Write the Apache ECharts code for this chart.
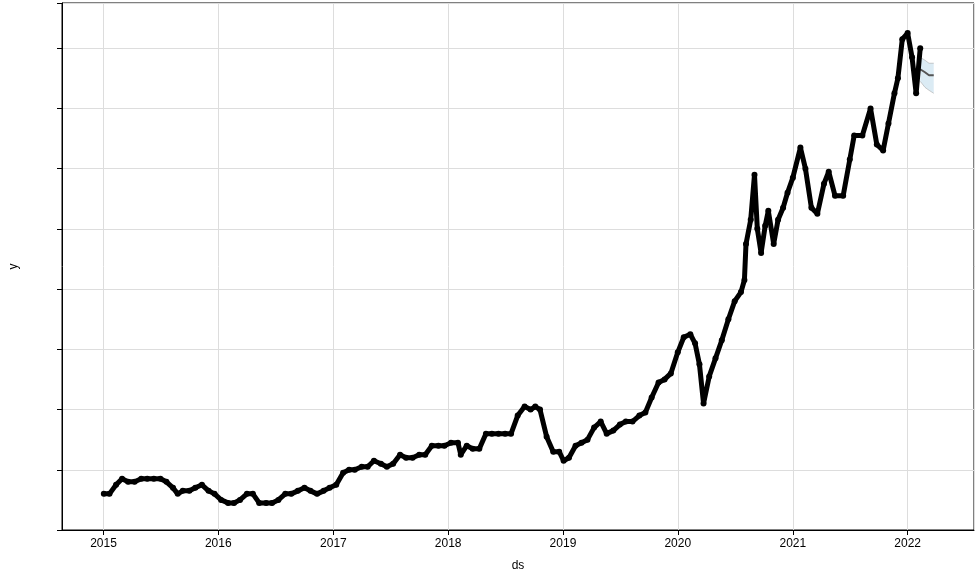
<!DOCTYPE html>
<html><head><meta charset="utf-8">
<script src="https://cdn.jsdelivr.net/npm/echarts@6/dist/echarts.min.js"></script>
<style>html,body{margin:0;padding:0;background:#fff}#c{width:979px;height:579px}</style>
</head><body><div id="c"></div>
<script>
const dates = ["2015-01-02","2015-01-20","2015-02-10","2015-03-01","2015-03-20","2015-04-10","2015-05-01","2015-05-20","2015-06-10","2015-07-01","2015-07-20","2015-08-10","2015-08-25","2015-09-10","2015-10-01","2015-10-20","2015-11-10","2015-12-01","2015-12-20","2016-01-10","2016-02-01","2016-02-20","2016-03-10","2016-04-01","2016-04-20","2016-05-10","2016-06-01","2016-06-20","2016-07-10","2016-08-01","2016-08-20","2016-09-10","2016-10-01","2016-10-20","2016-11-10","2016-12-01","2016-12-20","2017-01-10","2017-02-01","2017-02-20","2017-03-10","2017-04-01","2017-04-20","2017-05-10","2017-06-01","2017-06-20","2017-07-10","2017-08-01","2017-08-20","2017-09-10","2017-10-01","2017-10-20","2017-11-10","2017-12-01","2017-12-20","2018-01-10","2018-02-01","2018-02-10","2018-03-01","2018-03-20","2018-04-10","2018-05-01","2018-05-20","2018-06-10","2018-07-01","2018-07-20","2018-08-10","2018-09-01","2018-09-20","2018-10-05","2018-10-20","2018-11-10","2018-12-01","2018-12-20","2019-01-03","2019-01-20","2019-02-10","2019-03-01","2019-03-20","2019-04-10","2019-05-01","2019-05-20","2019-06-10","2019-07-01","2019-07-20","2019-08-10","2019-09-01","2019-09-20","2019-10-10","2019-11-01","2019-11-20","2019-12-10","2020-01-01","2020-01-20","2020-02-10","2020-02-25","2020-03-10","2020-03-23","2020-04-10","2020-04-30","2020-05-20","2020-06-10","2020-06-30","2020-07-20","2020-07-31","2020-08-05","2020-08-20","2020-09-01","2020-09-10","2020-09-22","2020-10-05","2020-10-15","2020-11-01","2020-11-15","2020-12-01","2020-12-15","2021-01-01","2021-01-25","2021-02-10","2021-03-01","2021-03-20","2021-04-10","2021-04-25","2021-05-15","2021-06-10","2021-07-01","2021-07-15","2021-08-10","2021-09-05","2021-09-25","2021-10-15","2021-11-01","2021-11-20","2021-12-01","2021-12-15","2022-01-01","2022-01-15","2022-01-28","2022-02-10"];
const values = [27,27,30,32,31,31,32,32,32,32,31,29,27,28,28,29,30,28,27,25,24,24,25,27,27,24,24,24,25,27,27,28,29,28,27,28,29,30,34,35,35,36,36,38,37,36,37,40,39,39,40,40,43,43,43,44,44,40,43,42,42,47,47,47,47,47,53,56,55,56,55,46,41,41,38,39,43,44,45,49,51,47,48,50,51,51,53,54,59,64,65,67,74,79,80,77,70,57,66,72,78,85,91,94,98,110,118,133,115,107,116,121,110,118,122,127,132,142,135,122,120,130,134,126,126,138,146,146,155,143,141,150,160,165,178,180,172,160,175];
const fcDates = ["2022-02-10","2022-02-25","2022-03-10","2022-03-25"];
const fcMean = [168,167,166,166];
const fcLower = [164,162,161,160];
const fcUpper = [172,171,170,170];
const pts = dates.map((d,i)=>[d,values[i]]);
const chart = echarts.init(document.getElementById('c'));
chart.setOption({
  animation:false,
  grid:{left:60,right:5,top:3,bottom:49,show:true,borderColor:'#000',borderWidth:1},
  xAxis:{type:'time',min:'2014-08-22',max:'2022-07-31',name:'ds',nameLocation:'middle',nameGap:30,
    nameTextStyle:{color:'#000',fontSize:12},
    minInterval:365*86400000,maxInterval:366*86400000,
    axisLine:{lineStyle:{color:'#000'}},axisTick:{lineStyle:{color:'#000'}},
    axisLabel:{color:'#000',fontSize:12,formatter:v=>{const d=new Date(v);return d.getMonth()===0?String(d.getFullYear()):'';}},
    splitLine:{show:true,lineStyle:{color:'#ddd'}}},
  yAxis:{type:'value',min:15,max:190,interval:20,name:'y',nameLocation:'middle',nameGap:42,
    nameTextStyle:{color:'#000',fontSize:12},
    axisLine:{show:true,lineStyle:{color:'#000'}},axisTick:{show:true,lineStyle:{color:'#000'}},
    axisLabel:{color:'#000',fontSize:12,formatter:v=>(v%20===0?v:'')},
    splitLine:{show:true,lineStyle:{color:'#ddd'}}},
  series:[
    {type:'line',data:fcDates.map((d,i)=>[d,fcLower[i]]),stack:'b',symbol:'none',lineStyle:{width:0.5,color:'#999'},z:1},
    {type:'line',data:fcDates.map((d,i)=>[d,fcUpper[i]-fcLower[i]]),stack:'b',symbol:'none',lineStyle:{width:0.5,color:'#999'},areaStyle:{color:'rgba(0,114,178,0.2)'},z:1},
    {type:'line',data:fcDates.map((d,i)=>[d,fcMean[i]]),symbol:'none',lineStyle:{width:2,color:'#555'},z:2},
    {type:'line',data:pts,symbol:'circle',symbolSize:6,itemStyle:{color:'#000'},lineStyle:{width:5,color:'#000'},z:3}
  ]
});
</script></body></html>
